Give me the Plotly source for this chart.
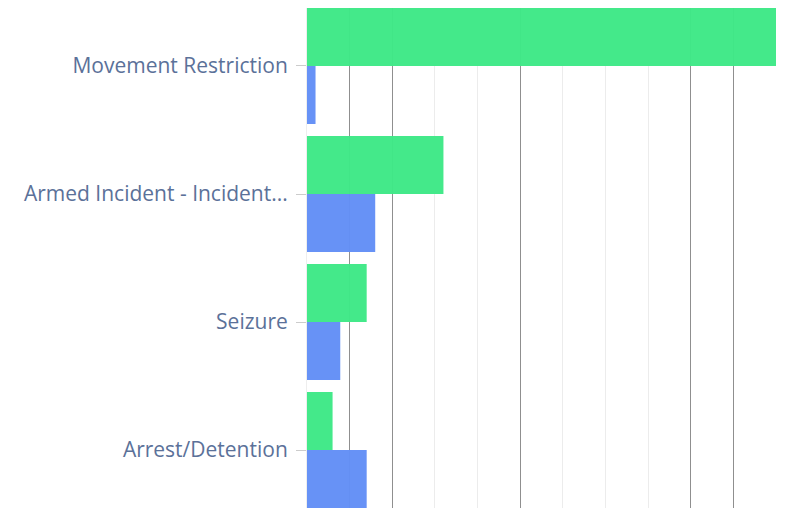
import plotly.graph_objects as go

categories = ["Movement Restriction", "Armed Incident - Incident...", "Seizure", "Arrest/Detention"]
series_green = [110, 32, 14, 6]
series_blue = [2, 16, 7.8, 14]
green_name = "Series A"
blue_name = "Series B"

fig = go.Figure()
fig.add_trace(go.Bar(y=categories, x=series_green, orientation="h", name=green_name,
                     marker=dict(color="#3ee886", opacity=0.97, line=dict(width=0))))
fig.add_trace(go.Bar(y=categories, x=series_blue, orientation="h", name=blue_name,
                     marker=dict(color="#628ef6", opacity=0.97, line=dict(width=0))))
# overlay trace to activate the second x axis (dark gridlines)
fig.add_trace(go.Bar(y=categories, x=[0, 0, 0, 0], orientation="h", xaxis="x2",
                     showlegend=False, hoverinfo="skip", marker=dict(opacity=0)))

fig.update_layout(
    width=790, height=509,
    margin=dict(l=299, r=22, t=0, b=9),
    barmode="group", bargap=0.094, bargroupgap=0,
    showlegend=False,
    plot_bgcolor="white", paper_bgcolor="white",
    font=dict(family="Open Sans", size=21, color="#5b7199"),
    xaxis=dict(range=[0, 110], dtick=10, showticklabels=False, showgrid=True,
               gridcolor="#ececec", gridwidth=1, zeroline=False, showline=False),
    xaxis2=dict(range=[0, 110], overlaying="x", side="bottom", tickvals=[10, 20, 50, 90, 100, 110],
                showticklabels=False, showgrid=True, gridcolor="#8f8f8f", gridwidth=1,
                zeroline=False, showline=False),
    yaxis=dict(categoryorder="array", categoryarray=categories, range=[3.453, -0.453],
               ticks="outside", ticklen=10, tickcolor="#cccccc", ticklabelstandoff=4,
               showline=True, linecolor="#eeeeee", showgrid=False, zeroline=False,
               automargin=False),
)
fig.write_html("out.html")
